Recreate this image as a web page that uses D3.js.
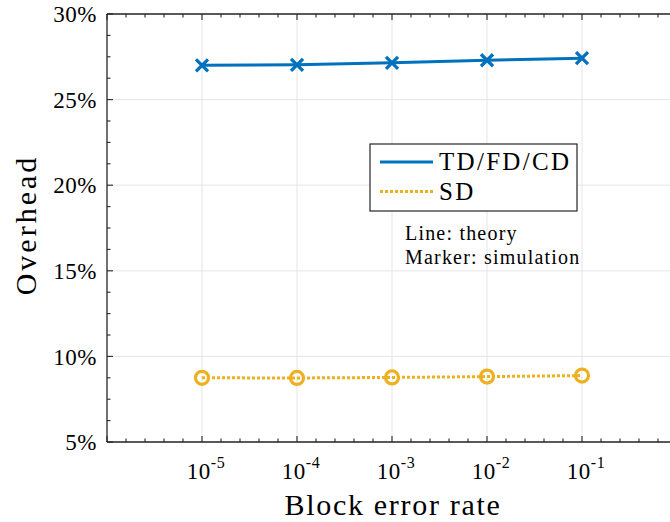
<!DOCTYPE html>
<html><head><meta charset="utf-8">
<script src="https://cdn.jsdelivr.net/npm/d3@7"></script>
<style>body{margin:0;background:#fff;} text{font-family:"Liberation Serif","Times New Roman",serif;fill:#000;}</style>
</head><body><svg id="c" width="670" height="522"></svg>
<script>
const exponents = [-5, -4, -3, -2, -1];
const xTickLabels = ["-5", "-4", "-3", "-2", "-1"];
const tdfdcd = [27.0, 27.03, 27.15, 27.3, 27.42];
const sd = [8.75, 8.74, 8.77, 8.82, 8.88];
const yTicks = [5, 10, 15, 20, 25, 30];
const seriesNames = ["TD/FD/CD", "SD"];
const notes = ["Line: theory", "Marker: simulation"];

const svg = d3.select("#c");
const L = 107, R = 677, T = 14, B = 442;
const x = d3.scaleLinear().domain([-6, 0]).range([L, R]);
const y = d3.scaleLinear().domain([5, 30]).range([B, T]);

// grid
const g = svg.append("g");
g.selectAll(".gx").data(exponents).enter().append("line")
  .attr("x1", d => x(d)).attr("x2", d => x(d)).attr("y1", T).attr("y2", B)
  .attr("stroke", "#e5e5e5").attr("stroke-width", 1);
g.selectAll(".gy").data(yTicks).enter().append("line")
  .attr("x1", L).attr("x2", R).attr("y1", d => y(d)).attr("y2", d => y(d))
  .attr("stroke", "#e5e5e5").attr("stroke-width", 1);

// axes with inward ticks
const axCol = "#262626";
const minorX = d3.range(-6, 0.001, 0.2).map(v => +v.toFixed(2));
const minorY = d3.range(5, 30.001, 1.25);
const ax = svg.append("g");
ax.append("line").attr("x1", L).attr("x2", R).attr("y1", B).attr("y2", B).attr("stroke", axCol).attr("stroke-width", 1.3);
ax.append("line").attr("x1", L).attr("x2", R).attr("y1", T).attr("y2", T).attr("stroke", axCol).attr("stroke-width", 1.3);
ax.append("line").attr("x1", L).attr("x2", L).attr("y1", T).attr("y2", B).attr("stroke", axCol).attr("stroke-width", 1.3);
minorX.forEach(v => {
  const major = Math.abs(v - Math.round(v)) < 1e-6;
  const len = major ? 6 : 3.5;
  ax.append("line").attr("x1", x(v)).attr("x2", x(v)).attr("y1", B).attr("y2", B - len).attr("stroke", axCol).attr("stroke-width", 1.1);
  ax.append("line").attr("x1", x(v)).attr("x2", x(v)).attr("y1", T).attr("y2", T + len).attr("stroke", axCol).attr("stroke-width", 1.1);
});
minorY.forEach(v => {
  const major = Math.abs(v / 5 - Math.round(v / 5)) < 1e-6;
  const len = major ? 6 : 3.5;
  ax.append("line").attr("x1", L).attr("x2", L + len).attr("y1", y(v)).attr("y2", y(v)).attr("stroke", axCol).attr("stroke-width", 1.1);
});

// y tick labels
svg.selectAll(".yl").data(yTicks).enter().append("text")
  .attr("x", L - 10).attr("y", d => y(d)).attr("dy", "0.36em")
  .attr("text-anchor", "end").attr("font-size", 23).attr("letter-spacing", 0.5).text(d => d + "%");

// x tick labels
exponents.forEach((e, i) => {
  const t = svg.append("text").attr("x", x(e) + 4).attr("y", 479).attr("text-anchor", "middle").attr("font-size", 23).attr("letter-spacing", 0.5);
  t.append("tspan").text("10");
  t.append("tspan").attr("dy", -11).attr("font-size", 16).text(xTickLabels[i]);
});

// axis labels
svg.append("text").attr("x", x(-3) + 1).attr("y", 515).attr("text-anchor", "middle").attr("font-size", 30).attr("letter-spacing", 1.7).text("Block error rate");
svg.append("text").attr("transform", `translate(36,${(T + B) / 2 - 3}) rotate(-90)`).attr("text-anchor", "middle").attr("font-size", 30).attr("letter-spacing", 3).text("Overhead");

const blue = "#0072BD", orange = "#EDB120";
const line = d3.line().x((d, i) => x(exponents[i])).y(d => y(d));
svg.append("path").datum(tdfdcd).attr("d", line).attr("fill", "none").attr("stroke", blue).attr("stroke-width", 3);
svg.append("path").datum(sd).attr("d", line).attr("fill", "none").attr("stroke", orange).attr("stroke-width", 3).attr("stroke-dasharray", "3,2");

// markers
const s = 6;
svg.selectAll(".mx").data(tdfdcd).enter().append("path")
  .attr("d", (d, i) => { const cx = x(exponents[i]), cy = y(d); return `M${cx - s},${cy - s}L${cx + s},${cy + s}M${cx - s},${cy + s}L${cx + s},${cy - s}`; })
  .attr("stroke", blue).attr("stroke-width", 3.3).attr("fill", "none");
svg.selectAll(".mo").data(sd).enter().append("circle")
  .attr("cx", (d, i) => x(exponents[i])).attr("cy", d => y(d)).attr("r", 6.5)
  .attr("fill", "none").attr("stroke", orange).attr("stroke-width", 3.2);

// legend
const lg = svg.append("g");
lg.append("rect").attr("x", 370).attr("y", 144).attr("width", 207).attr("height", 67).attr("fill", "#fff").attr("stroke", "#262626").attr("stroke-width", 1.2);
lg.append("line").attr("x1", 380).attr("x2", 433).attr("y1", 162).attr("y2", 162).attr("stroke", blue).attr("stroke-width", 3);
lg.append("line").attr("x1", 380).attr("x2", 433).attr("y1", 191.5).attr("y2", 191.5).attr("stroke", orange).attr("stroke-width", 3).attr("stroke-dasharray", "3,2");
lg.append("text").attr("x", 439).attr("y", 170).attr("font-size", 25).attr("letter-spacing", 2.3).text(seriesNames[0]);
lg.append("text").attr("x", 439).attr("y", 199.5).attr("font-size", 25).attr("letter-spacing", 2.3).text(seriesNames[1]);

svg.selectAll(".note").data(notes).enter().append("text")
  .attr("x", 405).attr("y", (d, i) => 240 + i * 23.5).attr("font-size", 20).attr("letter-spacing", 1.2).text(d => d);
</script></body></html>
